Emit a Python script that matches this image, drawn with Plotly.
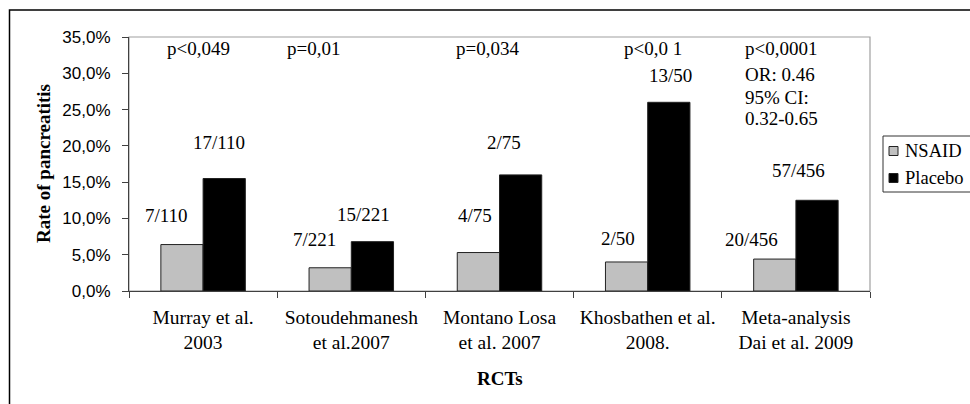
import plotly.graph_objects as go

# ---------------- data ----------------
categories = ["Murray et al.<br>2003", "Sotoudehmanesh<br>et al.2007",
              "Montano Losa<br>et al. 2007", "Khosbathen et al.<br>2008.",
              "Meta-analysis<br>Dai et al. 2009"]
nsaid_rate = [0.064, 0.032, 0.053, 0.040, 0.044]
placebo_rate = [0.155, 0.068, 0.160, 0.260, 0.125]
nsaid_labels = ["7/110", "7/221", "4/75", "2/50", "20/456"]
placebo_labels = ["17/110", "15/221", "2/75", "13/50", "57/456"]
p_values = ["p<0,049", "p=0,01", "p=0,034", "p<0,0 1", "p<0,0001"]
meta_stats = ["OR: 0.46", "95% CI:", "0.32-0.65"]
series_names = ["NSAID", "Placebo"]
y_ticks = [0, 0.05, 0.10, 0.15, 0.20, 0.25, 0.30, 0.35]

# ---------------- layout config ----------------
FIG_W, FIG_H = 970, 404
L, R, T, B = 129, 100, 37, 113
W = FIG_W - L - R
H = FIG_H - T - B
SERIF = "Liberation Serif"
SANS = "Liberation Sans"
colors = ["#c0c0c0", "#000000"]

def px_x(px):
    return (px - L) / W

def px_y(py):
    return (FIG_H - B - py) / H

# label offsets (xshift, yshift) in pixels relative to category centre / bar top
nsaid_off = [(-37, 29), (-37, 28), (-25, 37), (-30, 23), (-44, 20)]
placebo_off = [(16, 36), (12, 27), (4, 32), (23, 27), (3, 30)]
p_xshift = [-5, -38, -12, 5, -53]

fig = go.Figure()
for name, vals, col in zip(series_names, [nsaid_rate, placebo_rate], colors):
    fig.add_trace(go.Bar(
        name=name, x=categories, y=vals,
        marker=dict(color=col, line=dict(color="#222222", width=1)),
        showlegend=False, hoverinfo="skip"))

ann = []
for i in range(len(categories)):
    ann.append(dict(x=i, y=nsaid_rate[i], xref="x", yref="y", text=nsaid_labels[i],
                    showarrow=False, xshift=nsaid_off[i][0], yshift=nsaid_off[i][1],
                    xanchor="center", yanchor="middle",
                    font=dict(family=SERIF, size=19, color="black")))
    ann.append(dict(x=i, y=placebo_rate[i], xref="x", yref="y", text=placebo_labels[i],
                    showarrow=False, xshift=placebo_off[i][0], yshift=placebo_off[i][1],
                    xanchor="center", yanchor="middle",
                    font=dict(family=SERIF, size=19, color="black")))
    last = i == len(categories) - 1
    ann.append(dict(x=i, y=px_y(48), xref="x", yref="paper", text=p_values[i],
                    showarrow=False, xshift=p_xshift[i],
                    xanchor="left" if last else "center", yanchor="middle",
                    font=dict(family=SERIF, size=19, color="black")))

for j, s in enumerate(meta_stats):
    ann.append(dict(x=len(categories) - 1, y=px_y([75, 97, 118][j]), xref="x", yref="paper",
                    text=s, showarrow=False, xshift=p_xshift[-1],
                    xanchor="left", yanchor="middle",
                    font=dict(family=SERIF, size=19, color="black")))

# axis titles
ann.append(dict(x=px_x(43), y=px_y(164), xref="paper", yref="paper",
                text="<b>Rate of pancreatitis</b>", textangle=-90, showarrow=False,
                xanchor="center", yanchor="middle",
                font=dict(family=SERIF, size=19, color="black")))
ann.append(dict(x=px_x(500), y=px_y(378), xref="paper", yref="paper",
                text="<b>RCTs</b>", showarrow=False, xanchor="center", yanchor="middle",
                font=dict(family=SERIF, size=19, color="black")))

# manual legend text
leg_y = [151, 178]
for name, yy in zip(series_names, leg_y):
    ann.append(dict(x=px_x(903), y=px_y(yy), xref="paper", yref="paper", text=name,
                    showarrow=False, xanchor="left", yanchor="middle",
                    font=dict(family=SERIF, size=18.5, color="black")))

shapes = [
    # outer frame (top & left visible)
    dict(type="rect", xref="paper", yref="paper", x0=px_x(9.5), x1=px_x(1100),
         y0=px_y(600), y1=px_y(10), line=dict(color="black", width=1.5)),
    # plot area border
    dict(type="rect", xref="paper", yref="paper", x0=0, x1=1, y0=0, y1=1,
         line=dict(color="#a0a0a0", width=1.2), layer="below"),
    # legend box
    dict(type="rect", xref="paper", yref="paper", x0=px_x(883), x1=px_x(1100),
         y0=px_y(192), y1=px_y(136), line=dict(color="#333333", width=1),
         fillcolor="white"),
]
for col, yy in zip(colors, leg_y):
    shapes.append(dict(type="rect", xref="paper", yref="paper",
                       x0=px_x(889), x1=px_x(898), y0=px_y(yy + 4.5), y1=px_y(yy - 4.5),
                       fillcolor=col, line=dict(color="#222222", width=1)))

fig.update_layout(
    width=FIG_W, height=FIG_H,
    margin=dict(l=L, r=R, t=T, b=B, autoexpand=False),
    paper_bgcolor="white", plot_bgcolor="white",
    barmode="group", bargap=0.43, bargroupgap=0,
    separators=",.",
    showlegend=False,
    annotations=ann, shapes=shapes,
    xaxis=dict(type="category", showgrid=False, showline=True, linecolor="#404040",
               linewidth=1.2, ticks="outside", tickson="boundaries", ticklen=6,
               tickcolor="#404040", ticklabelstandoff=8, tickangle=0,
               tickfont=dict(family=SERIF, size=19.5, color="black")),
    yaxis=dict(range=[0, 0.35], tickvals=y_ticks, tickformat=".1%", showgrid=False,
               zeroline=False, showline=True, linecolor="#404040", linewidth=1.2,
               ticks="outside", ticklen=6, tickcolor="#404040", ticklabelstandoff=8,
               tickfont=dict(family=SANS, size=17, color="black")),
)

fig.write_html("out.html", config={"displayModeBar": False},
               post_script="document.body.style.margin='0';document.body.style.overflow='hidden';")
